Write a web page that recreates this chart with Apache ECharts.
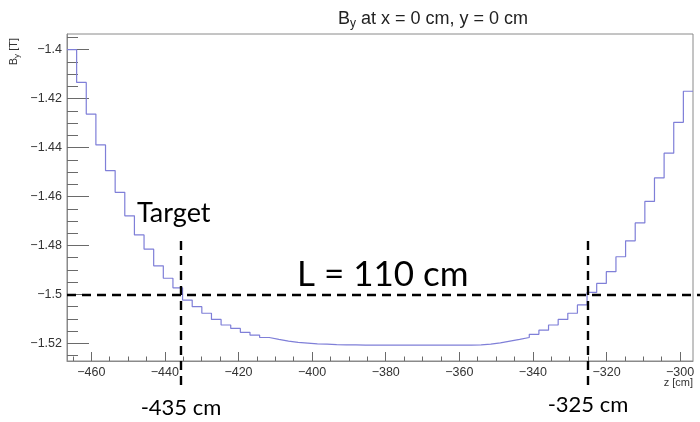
<!DOCTYPE html>
<html>
<head>
<meta charset="utf-8">
<script src="https://cdn.jsdelivr.net/npm/echarts@6/dist/echarts.min.js"></script>
<style>html,body{margin:0;padding:0;background:#fff}#main{width:700px;height:422px}</style>
</head>
<body>
<div id="main"></div>
<script>
// histogram range (z, cm) and B_y per bin (T)
var zLow = -466.6, zHigh = -296.5;
var byValues = [
  -1.4000, -1.4134, -1.4263, -1.4389, -1.4494, -1.4583, -1.4679, -1.4757, -1.4815, -1.4883,
  -1.4934, -1.4973, -1.5023, -1.5050, -1.5077, -1.5102, -1.5125, -1.5139, -1.5155, -1.5166,
  -1.5176, -1.5184, -1.5191, -1.5196, -1.5199, -1.5202, -1.5203, -1.5205, -1.5206, -1.5206,
  -1.5207, -1.5207, -1.5207, -1.5207, -1.5207, -1.5207, -1.5207, -1.5207, -1.5207, -1.5207,
  -1.5207, -1.5207, -1.5206, -1.5203, -1.5198, -1.5191, -1.5184, -1.5176, -1.5163, -1.5146,
  -1.5125, -1.5102, -1.5077, -1.5043, -1.4992, -1.4955, -1.4907, -1.4846, -1.4781, -1.4708,
  -1.4620, -1.4524, -1.4423, -1.4297, -1.4170
];
var yLow = -1.5272, yHigh = -1.3936;
var xTicks = [-460, -440, -420, -400, -380, -360, -340, -320, -300];
var yTicks = [-1.52, -1.5, -1.48, -1.46, -1.44, -1.42, -1.4];

// annotations
var targetZ = -435.8, endZ = -325.1, refBy = -1.5, markTopBy = -1.4782;

var binWidth = (zHigh - zLow) / byValues.length;
var stepData = byValues.map(function (v, i) { return [zLow + i * binWidth, v]; });
stepData.push([zHigh, byValues[byValues.length - 1]]);

var xMinor = [], yMinor = [];
for (var z = -465; z <= -296; z += 5) xMinor.push(z);
for (var k = -1525; k <= -1395; k += 5) yMinor.push(k / 1000);

function minus(v) { return String(v).replace('-', '\u2212'); }

var axisGray = '#8a8a8a';
var tickGray = '#6a6a6a';
var labelFont = { color: '#333', fontFamily: 'Liberation Sans', fontSize: 12.5 };

var myChart = echarts.init(document.getElementById('main'));
var option = {
  animation: false,
  grid: { left: 67, right: 7, top: 34, bottom: 61, show: true, borderColor: axisGray, borderWidth: 1 },
  title: {
    text: '{a|B}{s|y}{a| at x = 0 cm, y = 0 cm}',
    left: 333, top: 4,
    textStyle: {
      rich: {
        a: { fontFamily: 'Liberation Sans', fontSize: 18, fontWeight: 'normal', color: '#222' },
        s: { fontFamily: 'Liberation Sans', fontSize: 12, fontWeight: 'normal', color: '#222', verticalAlign: 'bottom', padding: [9, 0, 0, 0] }
      }
    }
  },
  xAxis: [
    {
      type: 'value', min: zLow, max: zHigh, position: 'bottom',
      axisLine: { show: true, lineStyle: { color: axisGray } },
      axisTick: { show: true, inside: true, length: 9, customValues: xTicks, lineStyle: { color: tickGray } },
      axisLabel: Object.assign({ customValues: xTicks, margin: 5, formatter: minus }, labelFont),
      splitLine: { show: false }
    },
    {
      type: 'value', min: zLow, max: zHigh, position: 'bottom',
      axisLine: { show: false },
      axisTick: { show: true, inside: true, length: 4.5, customValues: xMinor, lineStyle: { color: tickGray } },
      axisLabel: { show: false },
      splitLine: { show: false }
    }
  ],
  yAxis: [
    {
      type: 'value', min: yLow, max: yHigh, position: 'left',
      axisLine: { show: true, lineStyle: { color: axisGray } },
      axisTick: { show: true, inside: true, length: 22, customValues: yTicks, lineStyle: { color: tickGray } },
      axisLabel: Object.assign({ customValues: yTicks, margin: 5, formatter: minus }, labelFont),
      splitLine: { show: false }
    },
    {
      type: 'value', min: yLow, max: yHigh, position: 'left',
      axisLine: { show: false },
      axisTick: { show: true, inside: true, length: 11, customValues: yMinor, lineStyle: { color: tickGray } },
      axisLabel: { show: false },
      splitLine: { show: false }
    }
  ],
  series: [
    {
      type: 'line',
      step: 'end',
      data: stepData,
      showSymbol: false,
      symbol: 'none',
      clip: false,
      lineStyle: { color: '#7f7fd8', width: 1.2 },
      markLine: {
        silent: true,
        symbol: 'none',
        label: { show: false },
        lineStyle: { color: '#000', type: [9, 6], width: 2.4 },
        data: [
          [{ coord: [zLow, refBy] }, { coord: [zHigh, refBy], x: '100%' }],
          [{ coord: [targetZ, markTopBy] }, { coord: [targetZ, yLow], y: '91.3%' }],
          [{ coord: [endZ, markTopBy] }, { coord: [endZ, yLow], y: '91.3%' }]
        ]
      }
    }
  ],
  graphic: [
    { type: 'text', x: 14, y: 38, rotation: Math.PI / 2,
      style: { text: '{a|B}{s|y}{a| [T]}', textAlign: 'right', textVerticalAlign: 'middle',
        rich: { a: { fontFamily: 'Liberation Sans', fontSize: 11, fill: '#333' },
                s: { fontFamily: 'Liberation Sans', fontSize: 8, fill: '#333', padding: [5, 0, 0, 0] } } } },
    { type: 'text', x: 693, y: 383, style: { text: 'z [cm]', textAlign: 'right', textVerticalAlign: 'middle', fontFamily: 'Liberation Sans', fontSize: 11, fill: '#333' } },
    { type: 'text', x: 137, y: 213, style: { text: 'Target', textAlign: 'left', textVerticalAlign: 'middle', fontFamily: 'Lato', fontSize: 27, fill: '#000' } },
    { type: 'text', x: 297, y: 275, style: { text: 'L = 110 cm', textAlign: 'left', textVerticalAlign: 'middle', fontFamily: 'Lato', fontSize: 35, fill: '#000' } },
    { type: 'text', x: 181, y: 408, style: { text: '-435 cm', textAlign: 'center', textVerticalAlign: 'middle', fontFamily: 'Lato', fontSize: 22, fill: '#000' } },
    { type: 'text', x: 588, y: 405, style: { text: '-325 cm', textAlign: 'center', textVerticalAlign: 'middle', fontFamily: 'Lato', fontSize: 22, fill: '#000' } }
  ]
};
myChart.setOption(option);
</script>
</body>
</html>
